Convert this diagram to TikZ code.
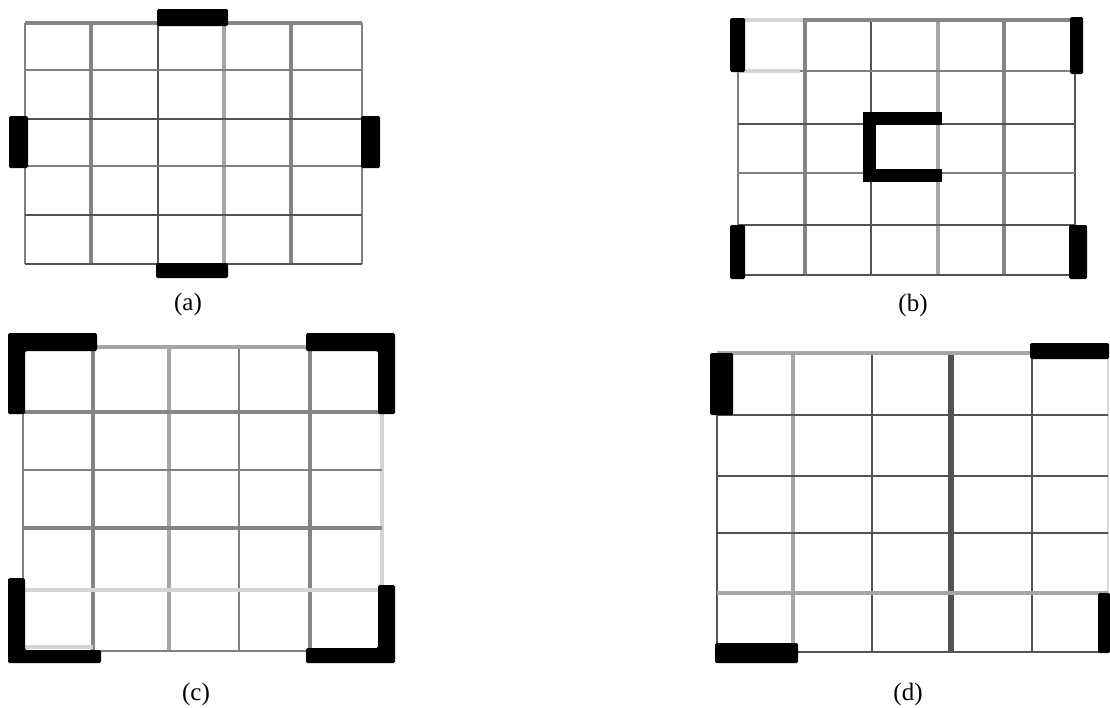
\documentclass[tikz,border=0pt]{standalone}
\usepackage{fontspec}
\setmainfont{Liberation Serif}
\begin{document}
\begin{tikzpicture}[x=1pt,y=-1pt,
  gd/.style={draw=black!68,line width=2.6pt},
  gm/.style={draw=black!50,line width=2.6pt},
  gmT/.style={draw=black!48,line width=4.5pt},
  glT/.style={draw=black!35,line width=4.5pt},
  gvl/.style={draw=black!17,line width=4.5pt},
  gdT/.style={draw=black!68,line width=6pt},
  blk/.style={fill=black,rounded corners=1.5pt},
  lbl/.style={font=\fontsize{25}{25}\selectfont,inner sep=0pt}]
\useasboundingbox[fill=white] (0,0) rectangle (1110,707);
% ---------- (a)
\foreach \x/\s in {25/gm,91/gmT,158/gd,224/glT,291/gmT,362/gm}
  \draw[\s] (\x,23) -- (\x,264);
\foreach \y/\s in {23/gmT,70/gm,119/gd,166/gm,215/gd,264/gd}
  \draw[\s] (25,\y) -- (362,\y);
\fill[blk] (157,9) rectangle (228,26);
\fill[blk] (156,263) rectangle (228,278);
\fill[blk] (9,116) rectangle (28,168);
\fill[blk] (361,116) rectangle (380,168);
\node[lbl] (la) at (188,304) {(a)};
% ---------- (b)
\foreach \x/\s in {738/gm,805/gmT,871/gd,938/glT,1004/gmT,1075/gd}
  \draw[\s] (\x,20) -- (\x,275);
\draw[gvl] (738,20) -- (803,20);
\draw[gmT] (803,20) -- (1075,20);
\draw[gvl] (738,71) -- (800,71);
\draw[gm] (800,71) -- (1075,71);
\foreach \y/\s in {124/gd,173/gm,225/gd,275/gd}
  \draw[\s] (738,\y) -- (1075,\y);
\fill[blk] (730,18) rectangle (745,72);
\fill[blk] (1070,17) rectangle (1083,74);
\fill[blk] (730,225) rectangle (745,279);
\fill[blk] (1069,225) rectangle (1087,279);
\draw[line width=13pt,black] (942,118) -- (869,118) -- (869,175) -- (942,175);
\node[lbl] (lb) at (913,305) {(b)};
% ---------- (c)
\foreach \x/\s in {23/gm,93/gmT,169/glT,239/gm,310/gmT,382/gvl}
  \draw[\s] (\x,347) -- (\x,651);
\foreach \y/\s in {347/glT,412/gmT,470/gm,528/gmT,590/gvl}
  \draw[\s] (23,\y) -- (382,\y);
\draw[gvl] (23,647) -- (93,647);
\draw[gm] (93,651) -- (382,651);
\fill[blk] (8,333) -- (97,333) -- (97,351) -- (25,351) -- (25,414) -- (8,414) -- cycle;
\fill[blk] (306,333) -- (395,333) -- (395,414) -- (378,414) -- (378,351) -- (306,351) -- cycle;
\fill[blk] (8,578) -- (25,578) -- (25,650) -- (101,650) -- (101,663) -- (8,663) -- cycle;
\fill[blk] (378,585) -- (395,585) -- (395,663) -- (306,663) -- (306,648) -- (378,648) -- cycle;
\node[lbl] (lc) at (196,694) {(c)};
% ---------- (d)
\foreach \x/\s in {717/gd,793/glT,872/gd,951/gdT,1032/gd}
  \draw[\s] (\x,353) -- (\x,652);
\draw[draw=black!15,line width=2.6pt] (1108,353) -- (1108,593);
\foreach \y/\s in {353/glT,415/gd,476/gd,533/gd,593/glT,652/gd}
  \draw[\s] (717,\y) -- (1108,\y);
\fill[blk] (710,353) rectangle (733,415);
\fill[blk] (1030,343) rectangle (1109,359);
\fill[blk] (1098,593) rectangle (1110,653);
\fill[blk] (715,643) rectangle (798,663);
\node[lbl] (ld) at (908,694) {(d)};
\end{tikzpicture}
\end{document}
